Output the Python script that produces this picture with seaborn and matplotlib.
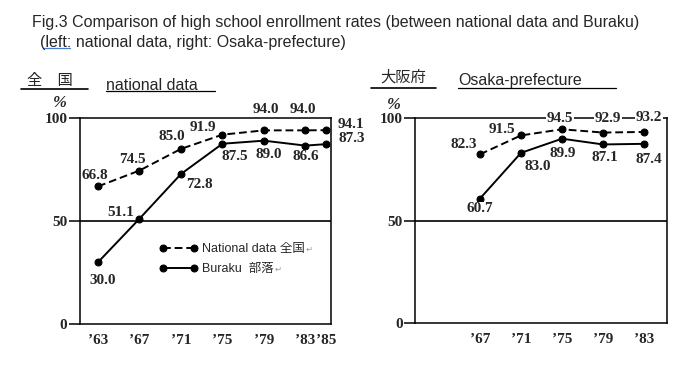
import pandas as pd
import numpy as np
import seaborn as sns
import matplotlib.pyplot as plt
from matplotlib.lines import Line2D

# national data (left panel)
years_nat = [1963, 1967, 1971, 1975, 1979, 1983, 1985]
nat_national = [66.8, 74.5, 85.0, 91.9, 94.0, 94.0, 94.1]
nat_buraku = [30.0, 51.1, 72.8, 87.5, 89.0, 86.6, 87.3]
nat_ticklabels = ["’63", "’67", "’71", "’75", "’79", "’83", "’85"]

# Osaka prefecture (right panel)
years_osk = [1967, 1971, 1975, 1979, 1983]
osk_national = [82.3, 91.5, 94.5, 92.9, 93.2]
osk_buraku = [60.7, 83.0, 89.9, 87.1, 87.4]
osk_ticklabels = ["’67", "’71", "’75", "’79", "’83"]

series_names = ["National data 全国", "Buraku  部落"]

# label offsets in pixels (dx, dy)
nat_national_off = [(-3, 11), (-7, 11), (-9, 12), (-20, 7), (2, 21), (-2, 21), (12, 6)]
nat_buraku_off = [(5, -18), (-19, 6), (18, -10), (12, -13), (5, -14), (1, -11), (12, 6)]
osk_national_off = [(-16, 10), (-19, 6), (-2, 11), (5, 14), (5, 14)]
osk_buraku_off = [(0, -10), (17, -14), (1, -15), (2, -13), (5, -16)]

sns.set_style("white")
plt.rcParams['font.family'] = ['Liberation Sans', 'Noto Sans CJK JP', 'DejaVu Sans']

W, H = 699, 370
fig = plt.figure(figsize=(W / 100, H / 100), dpi=100)
ax1 = fig.add_axes([80 / W, 1 - 324 / H, 251 / W, 206 / H])
ax2 = fig.add_axes([415 / W, 1 - 323 / H, 252 / W, 205 / H])

num_font = dict(family='Liberation Serif', weight='bold', size=11)
lw = 1.4
line_kw = dict(color='black', marker='o', markersize=5, mec='black', mfc='black', lw=lw)


def draw_panel(ax, years, national, buraku, ticklabels, off_nat, off_bur, xlim, with_label):
    df = pd.DataFrame({'year': years, 'national': national, 'buraku': buraku})
    sns.lineplot(data=df, x='year', y='national', ax=ax, linestyle=(0, (4, 2)),
                 label=series_names[0] if with_label else None, legend=False, **line_kw)
    sns.lineplot(data=df, x='year', y='buraku', ax=ax, linestyle='-',
                 label=series_names[1] if with_label else None, legend=False, **line_kw)
    ax.axhline(50, color='black', lw=1.2, zorder=1)
    ax.set_xlim(*xlim)
    ax.set_ylim(0, 100)
    ax.set_xlabel('')
    ax.set_ylabel('')
    ax.set_xticks(years)
    ax.set_xticklabels(ticklabels, **num_font)
    ax.set_yticks([0, 50, 100])
    ax.set_yticklabels(['0', '50', '100'], **num_font)
    ax.tick_params(axis='x', direction='inout', length=9, width=1.1, pad=3, color='black')
    ax.tick_params(axis='y', direction='out', length=8, width=1.1, pad=1, color='black', left=True)
    for s in ax.spines.values():
        s.set_color('black')
        s.set_linewidth(1.1)
    for col, offs in (('national', off_nat), ('buraku', off_bur)):
        for i, (x, y) in enumerate(zip(df['year'], df[col])):
            dx, dy = offs[i]
            ha = 'left' if (with_label and i == len(years) - 1) else 'center'
            ax.annotate(f"{y:.1f}", xy=(x, y), xytext=(dx, dy), textcoords='offset pixels',
                        ha=ha, va='center', annotation_clip=False,
                        bbox=dict(fc='white', ec='none', pad=0.3), **num_font)


draw_panel(ax1, years_nat, nat_national, nat_buraku, nat_ticklabels,
           nat_national_off, nat_buraku_off, (1961.26, 1985.48), True)
draw_panel(ax2, years_osk, osk_national, osk_buraku, osk_ticklabels,
           osk_national_off, osk_buraku_off, (1960.66, 1985.24), False)

leg = ax1.legend(loc='upper left', bbox_to_anchor=((159 - 80) / 251, (324 - 243) / 206),
                 frameon=False, numpoints=2, handlelength=3.1, handletextpad=0.3,
                 labelspacing=0.65, borderpad=0, borderaxespad=0, prop=dict(size=9))

# header texts
fig.text(32 / W, 1 - 23 / H, "Fig.3 Comparison of high school enrollment rates (between national data and Buraku)",
         fontsize=11.5, va='center', ha='left')
fig.text(40 / W, 1 - 43 / H, "(left: national data, right: Osaka-prefecture)",
         fontsize=11.5, va='center', ha='left')
fig.text(50 / W, 1 - 80 / H, "全\u3000国", family='Noto Sans CJK JP', fontsize=11, ha='center', va='center')
fig.text(106 / W, 1 - 85 / H, "national data", fontsize=11.5, ha='left', va='center')
fig.text(403 / W, 1 - 77 / H, "大阪府", family='Noto Sans CJK JP', fontsize=11, ha='center', va='center')
fig.text(458 / W, 1 - 81 / H, "Osaka-prefecture", fontsize=11.5, ha='left', va='center')
fig.text(60 / W, 1 - 103 / H, "%", family='Liberation Serif', style='italic', weight='bold',
         fontsize=12, ha='center', va='center')
fig.text(394 / W, 1 - 105 / H, "%", family='Liberation Serif', style='italic', weight='bold',
         fontsize=12, ha='center', va='center')

for x0, x1, y, c, lwid in [(21, 88, 89, 'black', 1.2), (106, 215, 91, 'black', 0.9),
                            (371, 436, 88, 'black', 1.2), (458, 616, 88, 'black', 0.9),
                            (43, 70, 48, '#4a7bd0', 0.9)]:
    fig.add_artist(Line2D([x0 / W, x1 / W], [1 - y / H, 1 - y / H], color=c, lw=lwid,
                          transform=fig.transFigure))

# return marks after legend entries
fig.canvas.draw()
for t in leg.get_texts():
    bb = t.get_window_extent()
    fig.text((bb.x1 + 1) / W, (bb.y0 + bb.y1) / 2 / H, "↵", family='DejaVu Sans',
             fontsize=6, color='#999999', ha='left', va='center')

fig.savefig('out.png', dpi=100)
